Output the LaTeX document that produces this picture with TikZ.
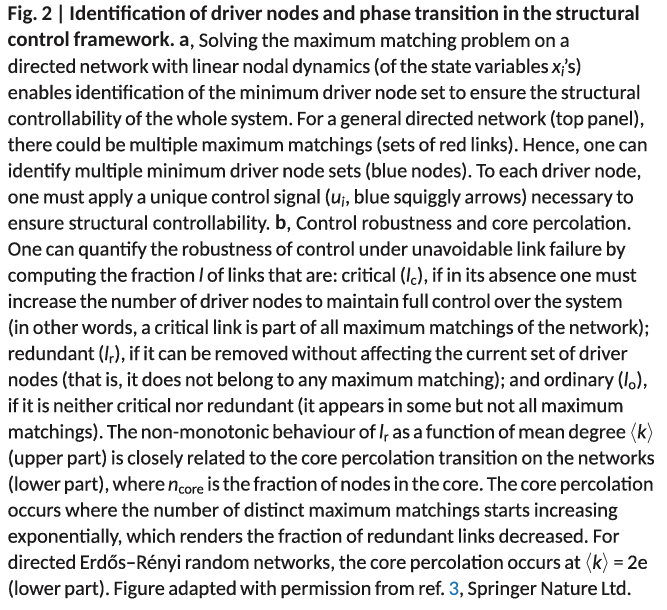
\documentclass[tikz,border=0pt]{standalone}
\usepackage{fontspec}
\setmainfont{Carlito}[UprightFeatures={FakeBold=0.3},ItalicFeatures={FakeBold=0.3}]
\definecolor{txt}{RGB}{28,26,27}
\definecolor{refblue}{RGB}{31,119,185}
\newlength\lnw
\newcommand\tightsp{\spaceskip=0.17em plus 1em minus 0.12em\relax\xspaceskip=\spaceskip}
\newcommand\Bx[1]{{\fontsize{\fb pt}{\fb pt}\selectfont\bfseries #1}}
\newcommand\sub[1]{\textsubscript{#1}}
\newcommand\ang[1]{$\langle$\textit{#1}$\rangle$}
\newcommand\Ln[2]{\hbox to #1pt{\tightsp #2}}
\begin{document}
\settowidth\lnw{\fontsize{10pt}{12pt}\selectfont\tightsp enables identification of the minimum driver node set to ensure the structural}%
\pgfmathsetmacro\fs{10*633/\lnw}%
\settowidth\lnw{\fontsize{10pt}{12pt}\selectfont\bfseries\tightsp Fig. 2 | Identification of driver nodes and phase transition in the structural}%
\pgfmathsetmacro\fb{10*632/\lnw}%
\begin{tikzpicture}[x=1pt,y=1pt]
\useasboundingbox (0,0) rectangle (667,-610);
\tikzset{ln/.style={anchor=base west, inner sep=0pt, text=txt, font=\fontsize{\fs pt}{\fs pt}\selectfont}}
\def\lx{7.5}
\node[ln] (l1) at (\lx,-20.7) {\Ln{632}{\Bx{Fig. 2 | Identification of driver nodes and phase transition in the structural}}};
\node[ln] (l2) at (\lx,-46.8) {\Ln{562}{\Bx{control framework. a}, Solving the maximum matching problem on a}};
\node[ln] (l3) at (\lx,-72.9) {\Ln{574}{directed network with linear nodal dynamics (of the state variables \textit{x}\sub{\textit{i}}\kern-0.05em’s)}};
\node[ln] (l4) at (\lx,-99.0) {\Ln{633}{enables identification of the minimum driver node set to ensure the structural}};
\node[ln] (l5) at (\lx,-125.1) {\Ln{637}{controllability of the whole system. For a general directed network (top panel),}};
\node[ln] (l6) at (\lx,-151.2) {\Ln{640}{there could be multiple maximum matchings (sets of red links). Hence, one can}};
\node[ln] (l7) at (\lx,-177.3) {\Ln{634}{identify multiple minimum driver node sets (blue nodes). To each driver node,}};
\node[ln] (l8) at (\lx,-203.4) {\Ln{626}{one must apply a unique control signal (\textit{u}\sub{\textit{i}}, blue squiggly arrows) necessary to}};
\node[ln] (l9) at (\lx,-229.5) {\Ln{624}{ensure structural controllability. \Bx{b}, Control robustness and core percolation.}};
\node[ln] (l10) at (\lx,-255.6) {\Ln{618}{One can quantify the robustness of control under unavoidable link failure by}};
\node[ln] (l11) at (\lx,-281.7) {\Ln{629}{computing the fraction \textit{l} of links that are: critical (\textit{l}\sub{c}), if in its absence one must}};
\node[ln] (l12) at (\lx,-307.8) {\Ln{615}{increase the number of driver nodes to maintain full control over the system}};
\node[ln] (l13) at (\lx,-333.9) {\Ln{642}{(in other words, a critical link is part of all maximum matchings of the network);}};
\node[ln] (l14) at (\lx,-360.0) {\Ln{620}{redundant (\textit{l}\sub{r}), if it can be removed without affecting the current set of driver}};
\node[ln] (l15) at (\lx,-386.1) {\Ln{640}{nodes (that is, it does not belong to any maximum matching); and ordinary (\textit{l}\sub{o}),}};
\node[ln] (l16) at (\lx,-412.2) {\Ln{616}{if it is neither critical nor redundant (it appears in some but not all maximum}};
\node[ln] (l17) at (\lx,-438.3) {\Ln{647}{matchings). The non-monotonic behaviour of \textit{l}\sub{r} as a function of mean degree \ang{k}}};
\node[ln] (l18) at (\lx,-464.4) {\Ln{647}{(upper part) is closely related to the core percolation transition on the networks}};
\node[ln] (l19) at (\lx,-490.5) {\Ln{646}{(lower part), where \textit{n}\sub{core} is the fraction of nodes in the core. The core percolation}};
\node[ln] (l20) at (\lx,-516.6) {\Ln{610}{occurs where the number of distinct maximum matchings starts increasing}};
\node[ln] (l21) at (\lx,-542.7) {\Ln{612}{exponentially, which renders the fraction of redundant links decreased. For}};
\node[ln] (l22) at (\lx,-568.8) {\Ln{640}{directed Erdős–Rényi random networks, the core percolation occurs at \ang{k} = 2e}};
\node[ln] (l23) at (\lx,-594.9) {\Ln{624}{(lower part). Figure adapted with permission from ref. \textcolor{refblue}{3}, Springer Nature Ltd.}};
\end{tikzpicture}
\end{document}
